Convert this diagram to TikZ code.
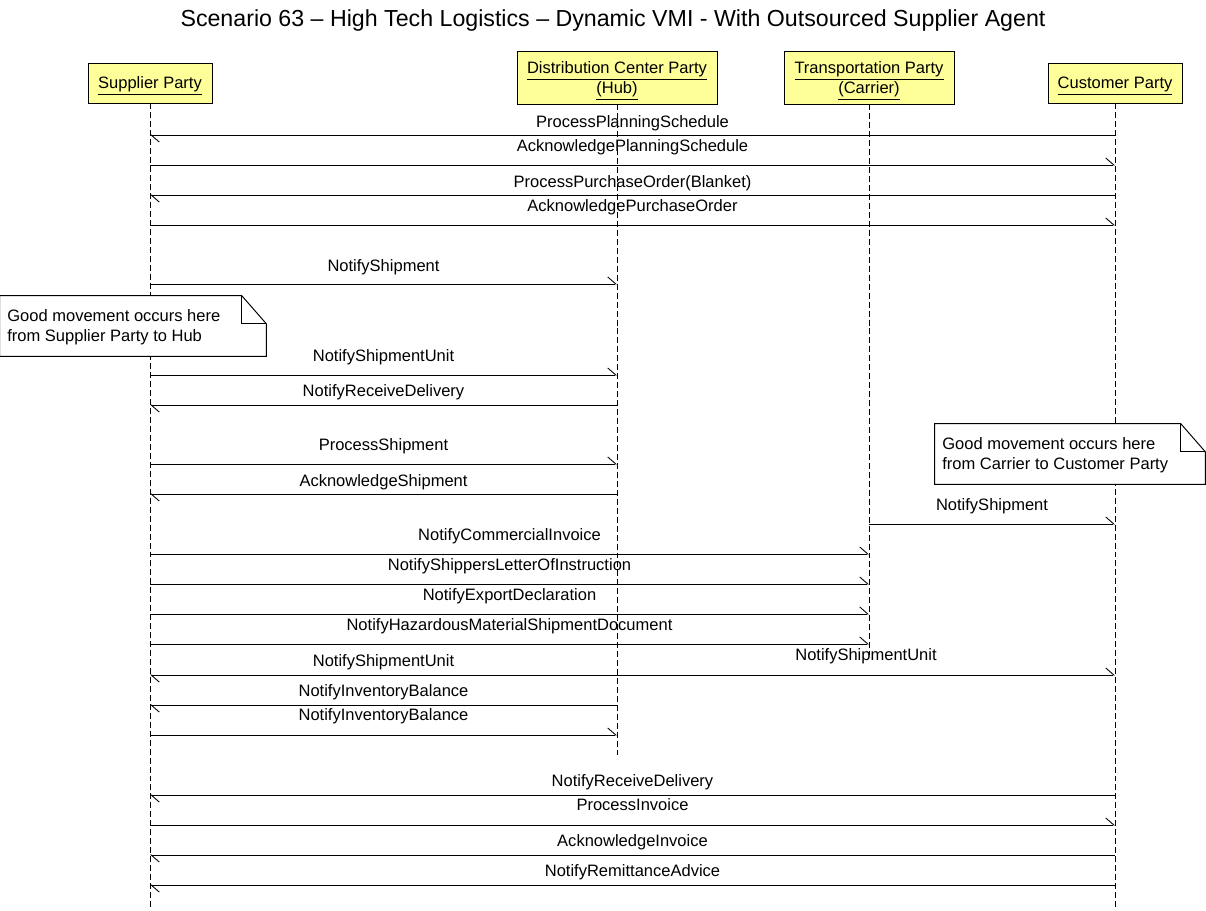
\documentclass[tikz,border=0pt]{standalone}
\usepackage{fontspec}
\setmainfont{Liberation Sans}
\usetikzlibrary{arrows.meta,calc}
\definecolor{partyyellow}{RGB}{255,255,153}

\begin{document}
\begin{tikzpicture}[x=0.02cm, y=-0.02cm,
		font=\fontsize{9.4}{11.3}\selectfont,
		party/.style={draw, line width=0.55pt, fill=partyyellow, align=center, inner sep=0pt},
		life/.style={line width=0.55pt, dash pattern=on 3.4pt off 1.7pt},
		msg/.style={line width=0.55pt, -{Straight Barb[harpoon, length=4.6pt, width=8pt, line width=0.5pt]}},
		notebox/.style={inner sep=0pt}]
				\useasboundingbox (0,0) rectangle (1206,910);
				\node[anchor=base, font=\fontsize{13.2}{15}\selectfont] (title) at (613,26) {Scenario 63 – High Tech Logistics – Dynamic VMI - With Outsourced Supplier Agent};
				\node[party, minimum width=2.48cm, minimum height=0.8cm] (sup) at (150,83) {\rule{0pt}{10.4pt}\underline{Supplier Party}};
				\node[party, minimum width=4cm, minimum height=1.06cm] (dc) at (617,77.5) {\rule{0pt}{10.4pt}\underline{Distribution Center Party}\\\underline{(Hub)}};
				\node[party, minimum width=3.4cm, minimum height=1.06cm] (tr) at (869,77.5) {\rule{0pt}{10.4pt}\underline{Transportation Party}\\\underline{(Carrier)}};
				\node[party, minimum width=2.68cm, minimum height=0.8cm] (cus) at (1115,83) {\rule{0pt}{10.4pt}\underline{Customer Party}};
				\draw[life] (sup.south) -- (sup |- 0,907);
				\draw[life] (dc.south) -- (dc |- 0,755);
				\draw[life] (tr.south) -- (tr |- 0,655);
				\draw[life] (cus.south) -- (cus |- 0,907);
				\foreach \y/\a/\b/\ly/\txt [count=\i] in {
						135/cus/sup/127/ProcessPlanningSchedule,
						165/sup/cus/151/AcknowledgePlanningSchedule,
						195/cus/sup/187/ProcessPurchaseOrder(Blanket),
						225/sup/cus/211/AcknowledgePurchaseOrder,
						284/sup/dc/271/NotifyShipment,
						375/sup/dc/361/NotifyShipmentUnit,
						405/dc/sup/396/NotifyReceiveDelivery,
						464/sup/dc/450/ProcessShipment,
						494/dc/sup/486/AcknowledgeShipment,
						524/tr/cus/510/NotifyShipment,
						554/sup/tr/540/NotifyCommercialInvoice,
						584/sup/tr/570/NotifyShippersLetterOfInstruction,
						614/sup/tr/600/NotifyExportDeclaration,
						644/sup/tr/630/NotifyHazardousMaterialShipmentDocument,
						675/dc/sup/666/NotifyShipmentUnit,
						675/dc/cus/660/NotifyShipmentUnit,
						705/dc/sup/696/NotifyInventoryBalance,
						735/sup/dc/720/NotifyInventoryBalance,
						795/cus/sup/786/NotifyReceiveDelivery,
						825/sup/cus/810/ProcessInvoice,
						855/cus/sup/846/AcknowledgeInvoice,
						885/cus/sup/876/NotifyRemittanceAdvice}{
					\draw[msg] (\a |- 0,\y) -- (\b |- 0,\y);
					\node[anchor=base] (m\i) at ($(\a |- 0,\ly)!0.5!(\b |- 0,\ly)$) {\txt};
				}
				\node[notebox, minimum width=5.32cm, minimum height=1.2cm] (note1) at (133,326) {};
				\filldraw[line width=0.55pt, fill=white] (note1.north west) -- ([xshift=-14]note1.north east) -- ([yshift=-16]note1.north east) -- (note1.south east) -- (note1.south west) -- cycle;
				\draw[line width=0.55pt] ([xshift=-14]note1.north east) -- ([xshift=-14, yshift=-16]note1.north east) -- ([yshift=-16]note1.north east);
				\node[align=left, anchor=north west, inner sep=0pt] (text1) at (7,309) {Good movement occurs here\\from Supplier Party to Hub};
				\node[notebox, minimum width=5.4cm, minimum height=1.2cm] (note2) at (1070,454) {};
				\filldraw[line width=0.55pt, fill=white] (note2.north west) -- ([xshift=-14]note2.north east) -- ([yshift=-16]note2.north east) -- (note2.south east) -- (note2.south west) -- cycle;
				\draw[line width=0.55pt] ([xshift=-14]note2.north east) -- ([xshift=-14, yshift=-16]note2.north east) -- ([yshift=-16]note2.north east);
				\node[align=left, anchor=north west, inner sep=0pt] (text2) at (942,437) {Good movement occurs here\\from Carrier to Customer Party};
			\end{tikzpicture}
\end{document}
